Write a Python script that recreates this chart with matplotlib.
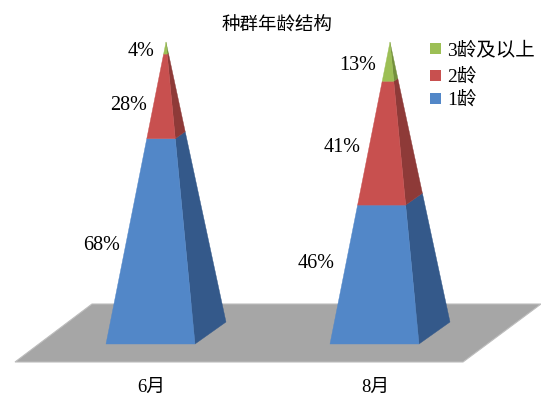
import matplotlib.pyplot as plt
from matplotlib.patches import Polygon, Rectangle

plt.rcParams['font.family'] = ['Liberation Serif', 'Noto Sans CJK SC']

title = "种群年龄结构"
months = ["6月", "8月"]
age_labels = ["1龄", "2龄", "3龄及以上"]
shares_june = [68, 28, 4]
shares_august = [46, 41, 13]

front_colors = ["#5287c8", "#c8504f", "#9cbf55"]
side_colors = ["#34598a", "#8e3a38", "#73903c"]

# pixel geometry of the fake 3d scene
front_left = [106, 330]
base_y = 344
base_w = 89
depth_x = 31
depth_y = 22
apex_dx = 60
apex_y = 42
label_right = [[120, 147, 155], [335, 361, 376]]
label_y = [[245, 105, 51], [264, 147, 65]]
month_x = [151, 375]


def along(x0, y0, x1, y1, t):
    return x0 + (x1 - x0) * t, y0 + (y1 - y0) * t


def draw_pyramid(ax, left, shares):
    apex = (left + apex_dx, apex_y)
    fl = (left, base_y)
    fr = (left + base_w, base_y)
    br = (left + base_w + depth_x, base_y - depth_y)
    low = 0
    for i, share in enumerate(shares):
        high = low + share
        t0, t1 = low / 100, high / 100
        a = along(*fl, *apex, t0)
        b = along(*fr, *apex, t0)
        c = along(*br, *apex, t0)
        d = along(*br, *apex, t1)
        e = along(*fr, *apex, t1)
        f = along(*fl, *apex, t1)
        ax.add_patch(Polygon([b, c, d, e], closed=True, fc=side_colors[i], ec=side_colors[i], lw=0.3))
        ax.add_patch(Polygon([a, b, e, f], closed=True, fc=front_colors[i], ec=front_colors[i], lw=0.3))
        low = high


fig = plt.figure(figsize=(5.41, 3.95), dpi=100)
ax = fig.add_axes([0, 0, 1, 1])
ax.set_xlim(0, 541)
ax.set_ylim(395, 0)
ax.axis("off")

# floor
ax.add_patch(Polygon([(15, 362), (92, 304), (541, 304), (463, 362)], closed=True,
                     fc="#a6a6a6", ec="#bdbdbd", lw=0.8))

for m, shares in enumerate([shares_june, shares_august]):
    draw_pyramid(ax, front_left[m], shares)
    for i, share in enumerate(shares):
        ax.text(label_right[m][i], label_y[m][i], "{}%".format(share), fontsize=14.5,
                ha="right", va="center", color="#000000")
    ax.text(month_x[m], 387, months[m], fontsize=13.5, ha="center", va="center", color="#000000")

ax.text(277, 26, title, fontsize=13.3, ha="center", va="center", color="#000000")

# legend, top entry is the top band
legend_y = [48, 75, 98]
for i, age in enumerate(reversed(age_labels)):
    ax.add_patch(Rectangle((430, legend_y[i] - 5.5), 11, 11, fc=front_colors[2 - i], ec="none"))
    ax.text(447, legend_y[i] + 2, age, fontsize=14, ha="left", va="center", color="#000000")

fig.savefig("out.png", dpi=100)
